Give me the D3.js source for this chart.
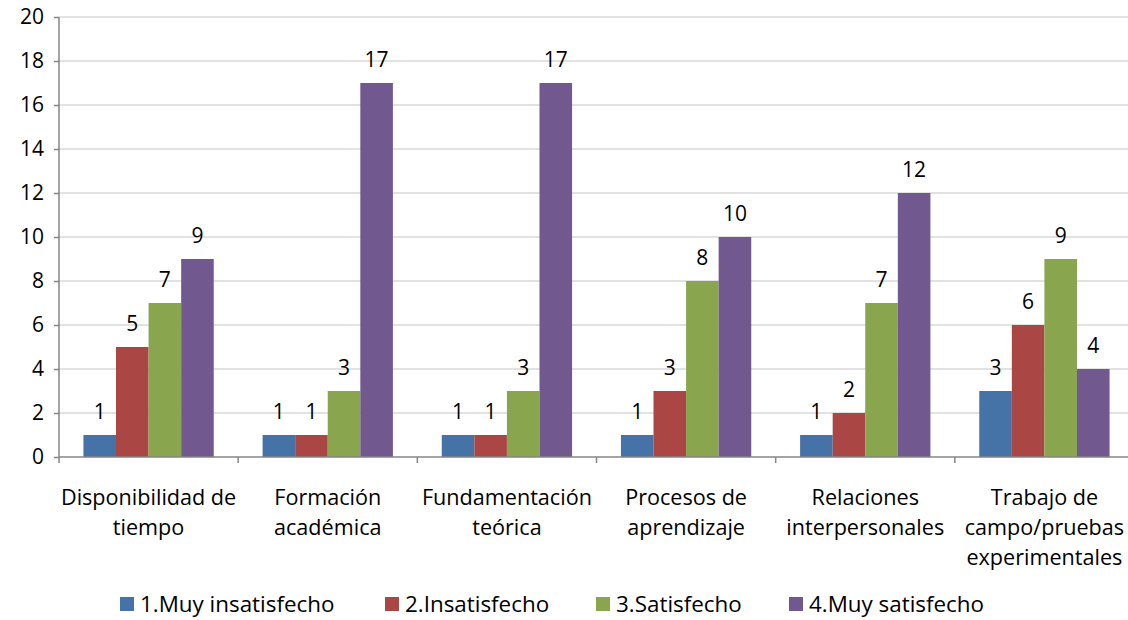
<!DOCTYPE html>
<html>
<head>
<meta charset="utf-8">
<script src="https://cdn.jsdelivr.net/npm/d3@7"></script>
<style>
  body { margin: 0; background: #fff; }
  text { font-family: "Open Sans", sans-serif; fill: #000; }
</style>
</head>
<body>
<script>
const categories = [
  ["Disponibilidad de", "tiempo"],
  ["Formación", "académica"],
  ["Fundamentación", "teórica"],
  ["Procesos de", "aprendizaje"],
  ["Relaciones", "interpersonales"],
  ["Trabajo de", "campo/pruebas", "experimentales"]
];
const seriesNames = ["1.Muy insatisfecho", "2.Insatisfecho", "3.Satisfecho", "4.Muy satisfecho"];
const muyInsatisfecho = [1, 1, 1, 1, 1, 3];
const insatisfecho = [5, 1, 1, 3, 2, 6];
const satisfecho = [7, 3, 3, 8, 7, 9];
const muySatisfecho = [9, 17, 17, 10, 12, 4];
const yTicks = [0, 2, 4, 6, 8, 10, 12, 14, 16, 18, 20];
const colors = ["#4572A7", "#AA4643", "#89A54E", "#71588F"];

const seriesValues = [muyInsatisfecho, insatisfecho, satisfecho, muySatisfecho];

const width = 1128, height = 620;
const margin = { top: 17, left: 59, bottom: 163 };
const plotRight = 1134;

const svg = d3.select("body").append("svg")
  .attr("width", width)
  .attr("height", height);

const x = d3.scaleBand()
  .domain(d3.range(categories.length))
  .range([margin.left, plotRight])
  .paddingInner(0).paddingOuter(0);

const inner = x.bandwidth() / (4 + 1.5);
const xSub = d3.scaleBand()
  .domain(d3.range(seriesNames.length))
  .range([inner * 0.75, x.bandwidth() - inner * 0.75]);

const y = d3.scaleLinear()
  .domain([0, 20])
  .range([height - margin.bottom, margin.top]);

// gridlines
svg.append("g")
  .selectAll("line")
  .data(yTicks.filter(d => d > 0))
  .enter().append("line")
  .attr("x1", margin.left)
  .attr("x2", width)
  .attr("y1", d => y(d))
  .attr("y2", d => y(d))
  .attr("stroke", "#d9d9d9")
  .attr("stroke-width", 1.5);

// bars
const groups = svg.append("g")
  .selectAll("g")
  .data(categories.map((c, i) => i))
  .enter().append("g")
  .attr("transform", i => `translate(${x(i)},0)`);

groups.selectAll("rect")
  .data(i => seriesValues.map((s, j) => ({ j: j, v: s[i] })))
  .enter().append("rect")
  .attr("x", d => xSub(d.j))
  .attr("width", xSub.bandwidth())
  .attr("y", d => y(d.v))
  .attr("height", d => y(0) - y(d.v))
  .attr("fill", d => colors[d.j]);

groups.selectAll("text.lbl")
  .data(i => seriesValues.map((s, j) => ({ j: j, v: s[i] })))
  .enter().append("text")
  .attr("class", "lbl")
  .attr("x", d => xSub(d.j) + xSub.bandwidth() / 2)
  .attr("y", d => y(d.v) - 16)
  .attr("text-anchor", "middle")
  .style("font-size", "21px")
  .text(d => d.v);

// y axis
const yAxis = svg.append("g")
  .attr("transform", `translate(${margin.left},0)`)
  .call(d3.axisLeft(y).tickValues(yTicks).tickSize(5).tickPadding(10));
yAxis.select(".domain").attr("stroke", "#868686").attr("stroke-width", 1.5)
  .attr("d", `M0,${y(20)}V${y(0)}`);
yAxis.selectAll(".tick line").attr("stroke", "#868686").attr("stroke-width", 1.5);
yAxis.selectAll(".tick text").style("font-size", "21px").style("font-family", "Open Sans, sans-serif").attr("fill", "#000");

// x axis
const xAxisG = svg.append("g");
xAxisG.append("line")
  .attr("x1", margin.left).attr("x2", width)
  .attr("y1", y(0)).attr("y2", y(0))
  .attr("stroke", "#868686").attr("stroke-width", 1.5);
xAxisG.selectAll("line.tk")
  .data(d3.range(categories.length + 1))
  .enter().append("line")
  .attr("class", "tk")
  .attr("x1", i => margin.left + i * x.step())
  .attr("x2", i => margin.left + i * x.step())
  .attr("y1", y(0)).attr("y2", y(0) + 6)
  .attr("stroke", "#868686").attr("stroke-width", 1.5);

const catLabels = xAxisG.selectAll("text")
  .data(categories)
  .enter().append("text")
  .attr("text-anchor", "middle")
  .style("font-size", "21.6px")
  .attr("transform", (d, i) => `translate(${x(i) + x.bandwidth() / 2},${y(0) + 48})`);
catLabels.selectAll("tspan")
  .data(d => d)
  .enter().append("tspan")
  .attr("x", 0)
  .attr("y", (d, k) => k * 30)
  .text(d => d);

// legend
const legendX = [120, 385, 596, 789];
const legend = svg.append("g")
  .selectAll("g")
  .data(seriesNames)
  .enter().append("g")
  .attr("transform", (d, i) => `translate(${legendX[i]},597)`);
legend.append("rect")
  .attr("width", 14).attr("height", 14)
  .attr("fill", (d, i) => colors[i]);
legend.append("text")
  .attr("x", 20).attr("y", 15)
  .style("font-size", "22.4px")
  .text(d => d);
</script>
</body>
</html>
